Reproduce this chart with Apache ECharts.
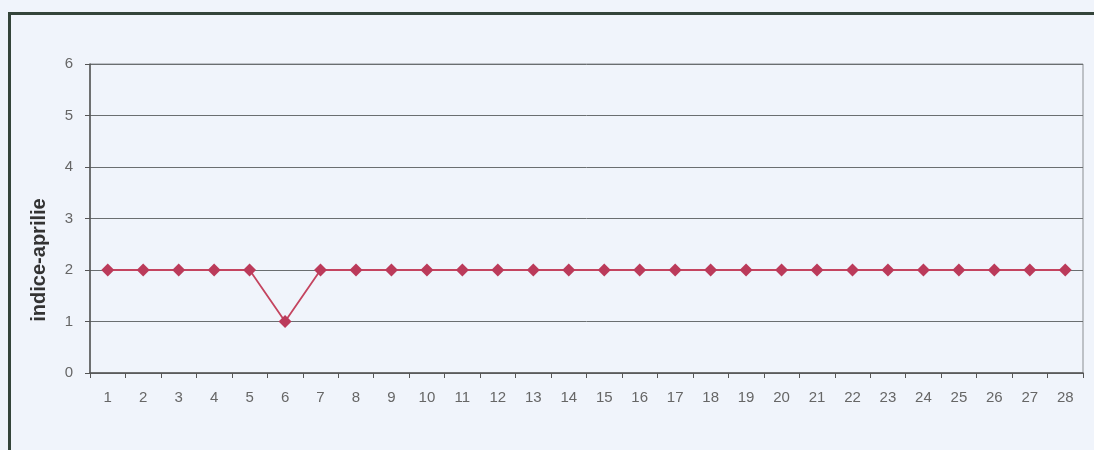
<!DOCTYPE html>
<html>
<head>
<meta charset="utf-8">
<script src="https://cdn.jsdelivr.net/npm/echarts@6/dist/echarts.min.js"></script>
<style>
html,body{margin:0;padding:0;background:#f0f4fb;}
#c{width:1094px;height:450px;}
</style>
</head>
<body>
<div id="c"></div>
<script>
const days = ['1','2','3','4','5','6','7','8','9','10','11','12','13','14','15','16','17','18','19','20','21','22','23','24','25','26','27','28'];
const indiceAprilie = [2,2,2,2,2,1,2,2,2,2,2,2,2,2,2,2,2,2,2,2,2,2,2,2,2,2,2,2];
const yTicks = [0,1,2,3,4,5,6];
const yName = 'indice-aprilie';

const chart = echarts.init(document.getElementById('c'));
chart.setOption({
  backgroundColor: '#f0f4fb',
  animation: false,
  grid: {left: 90, right: 11, top: 64, bottom: 77, show: true, borderColor: '#8a8e92', borderWidth: 1, backgroundColor: 'transparent'},
  graphic: [
    {type: 'rect', shape: {x: 9.5, y: 13.5, width: 1200, height: 600}, style: {fill: 'none', stroke: '#34443a', lineWidth: 3}, z: 10},
    {type: 'text', x: 39, y: 260, rotation: Math.PI/2, style: {text: yName, fill: '#333', font: 'bold 20px "Liberation Sans", Arial, sans-serif', align: 'center', verticalAlign: 'middle'}}
  ],
  xAxis: {
    type: 'category', data: days, boundaryGap: true,
    axisLine: {lineStyle: {color: '#555', width: 1.5}},
    axisTick: {show: true, alignWithLabel: false, length: 5, lineStyle: {color: '#555'}},
    axisLabel: {color: '#666', fontSize: 15, margin: 17, fontFamily: '"Liberation Sans", Arial, sans-serif'}
  },
  yAxis: {
    type: 'value', min: 0, max: 6, interval: 1,
    axisLine: {show: true, lineStyle: {color: '#555', width: 1.5}},
    axisTick: {show: true, length: 5, lineStyle: {color: '#555'}},
    axisLabel: {color: '#666', fontSize: 15, margin: 17, fontFamily: '"Liberation Sans", Arial, sans-serif',
      formatter: v => yTicks.includes(v) ? String(v) : ''},
    splitLine: {lineStyle: {color: '#6a6e70', width: 1}}
  },
  series: [{
    type: 'line', data: indiceAprilie,
    symbol: 'diamond', symbolSize: 13,
    lineStyle: {color: '#c4445f', width: 1.8},
    itemStyle: {color: '#bb3a5a'}
  }]
});
</script>
</body>
</html>
